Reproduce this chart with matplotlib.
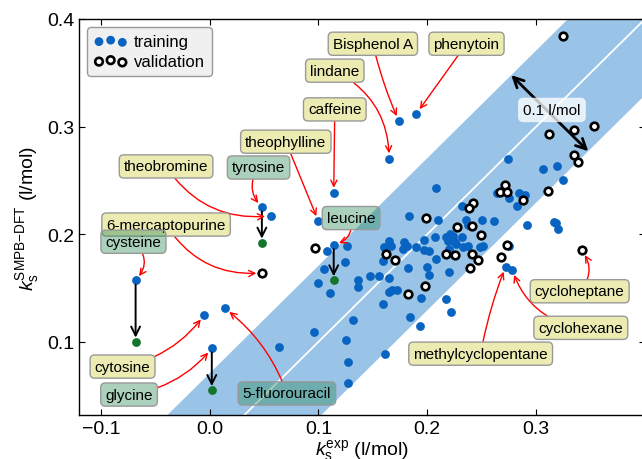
import numpy as np
import matplotlib
matplotlib.use('Agg')
import matplotlib.pyplot as plt

plt.rcParams['font.family'] = ['Liberation Sans', 'DejaVu Sans']
plt.rcParams['mathtext.fontset'] = 'custom'
plt.rcParams['mathtext.rm'] = 'Liberation Sans'
plt.rcParams['mathtext.it'] = 'Liberation Sans:italic'

# ── data (l/mol) ─────────────────────────────────────────────────────────────
train_x = [0.108, 0.126, 0.124, 0.105, 0.100, 0.111, 0.208, 0.183, 0.210, 0.165,
           0.160, 0.167, 0.179, 0.181, 0.178, 0.190, 0.197, 0.207, 0.217, 0.197,
           0.202, 0.208, 0.159, 0.182, 0.200, 0.165, 0.156, 0.147, 0.136, 0.136,
           0.165, 0.168, 0.172, 0.202, 0.220, 0.194, 0.217, 0.222, 0.159, 0.184,
           0.193, 0.132, 0.096, 0.064, 0.125, 0.127, 0.127, 0.161, 0.274, 0.306,
           0.319, 0.325, 0.264, 0.275, 0.284, 0.290, 0.282, 0.232, 0.236, 0.237,
           0.250, 0.261, 0.292, 0.316, 0.318, 0.320, 0.221, 0.224, 0.232, 0.219,
           0.222, 0.225, 0.233, 0.248, 0.251, 0.226, 0.275, 0.220, 0.237]
train_y = [0.184, 0.189, 0.174, 0.168, 0.155, 0.145, 0.243, 0.217, 0.213, 0.194,
           0.188, 0.189, 0.193, 0.189, 0.186, 0.188, 0.195, 0.197, 0.197, 0.185,
           0.184, 0.177, 0.175, 0.169, 0.170, 0.159, 0.161, 0.161, 0.157, 0.151,
           0.146, 0.148, 0.148, 0.162, 0.165, 0.141, 0.140, 0.128, 0.135, 0.123,
           0.115, 0.120, 0.109, 0.095, 0.102, 0.081, 0.062, 0.089, 0.270, 0.261,
           0.263, 0.250, 0.238, 0.234, 0.238, 0.236, 0.226, 0.226, 0.213, 0.209,
           0.213, 0.212, 0.209, 0.211, 0.210, 0.205, 0.200, 0.198, 0.197, 0.194,
           0.195, 0.193, 0.188, 0.188, 0.189, 0.191, 0.189, 0.186, 0.189]

valid_x = [0.325, 0.312, 0.335, 0.353, 0.335, 0.338, 0.271, 0.267, 0.273, 0.288,
           0.311, 0.242, 0.238, 0.227, 0.241, 0.249, 0.273, 0.268, 0.217, 0.225,
           0.241, 0.247, 0.239, 0.162, 0.170, 0.199, 0.182, 0.198, 0.097]
valid_y = [0.384, 0.293, 0.297, 0.301, 0.274, 0.267, 0.246, 0.239, 0.239, 0.232,
           0.240, 0.229, 0.224, 0.207, 0.208, 0.199, 0.190, 0.179, 0.182, 0.181,
           0.182, 0.176, 0.169, 0.182, 0.176, 0.215, 0.144, 0.152, 0.187]

# labelled molecules
named_train = ['Bisphenol A', 'phenytoin', 'lindane', 'caffeine', 'theophylline',
               'tyrosine', 'theobromine', 'cysteine', 'cytosine', 'glycine',
               '5-fluorouracil', 'leucine', 'methylcyclopentane', 'cyclohexane']
named_train_x = [0.174, 0.190, 0.165, 0.114, 0.100, 0.048, 0.056, -0.068, -0.005,
                 0.002, 0.014, 0.114, 0.272, 0.278]
named_train_y = [0.305, 0.312, 0.270, 0.238, 0.212, 0.225, 0.217, 0.157, 0.125,
                 0.094, 0.131, 0.190, 0.170, 0.167]

named_valid = ['6-mercaptopurine', 'cycloheptane']
named_valid_x = [0.048, 0.342]
named_valid_y = [0.164, 0.185]

# corrected values (green) for amino acids
corr_names = ['tyrosine', 'cysteine', 'glycine', 'leucine']
corr_y = [0.192, 0.100, 0.055, 0.157]

band_half = 0.05 * np.sqrt(2)   # 0.1 l/mol perpendicular width

# ── label layout: text position, box kind, arrow curvature ───────────────────
YEL = (0.75, 0.75, 0.0, 0.3)
GRN = (0.18, 0.545, 0.341, 0.4)
layout = {
    'Bisphenol A':        (0.150, 0.377, YEL, 0.05),
    'phenytoin':          (0.236, 0.377, YEL, 0.0),
    'lindane':            (0.115, 0.352, YEL, -0.3),
    'caffeine':           (0.115, 0.316, YEL, 0.0),
    'theophylline':       (0.070, 0.286, YEL, 0.0),
    'theobromine':        (-0.040, 0.263, YEL, 0.3),
    'tyrosine':           (0.045, 0.262, GRN, 0.4),
    '6-mercaptopurine':   (-0.040, 0.209, YEL, 0.3),
    'cysteine':           (-0.070, 0.193, GRN, -0.5),
    'cytosine':           (-0.080, 0.077, YEL, 0.2),
    'glycine':            (-0.074, 0.051, GRN, 0.2),
    '5-fluorouracil':     (0.071, 0.052, GRN, 0.15),
    'leucine':            (0.130, 0.215, GRN, -0.45),
    'methylcyclopentane': (0.249, 0.089, YEL, -0.05),
    'cyclohexane':        (0.341, 0.113, YEL, -0.3),
    'cycloheptane':       (0.340, 0.147, YEL, 0.4),
}

BLUE = '#0864c0'
BAND = '#99c4e8'
GREEN = '#13762c'

fig = plt.figure(figsize=(6.42, 4.6), dpi=100)
ax = fig.add_axes([79 / 642, 44 / 460, 566 / 642, 396 / 460])
xlim = (-0.12, 0.4)
ylim = (0.032, 0.4)

xx = np.array(xlim)
ax.fill_between(xx, xx - band_half, xx + band_half, color=BAND, lw=0, zorder=0)
ax.plot(xx, xx, color='white', lw=1.3, zorder=1)

all_tx = train_x + named_train_x
all_ty = train_y + named_train_y
ax.scatter(all_tx, all_ty, s=40, color=BLUE, lw=0, zorder=3, label='training')
ax.scatter(valid_x + named_valid_x, valid_y + named_valid_y, s=30,
           facecolor='white', edgecolor='black', lw=1.9, zorder=4,
           label='validation')

gx = [named_train_x[named_train.index(n)] for n in corr_names]
gy0 = [named_train_y[named_train.index(n)] for n in corr_names]
ax.scatter(gx, corr_y, s=40, color=GREEN, lw=0, zorder=3)
for x0, y0, y1 in zip(gx, gy0, corr_y):
    ax.annotate('', xy=(x0, y1), xytext=(x0, y0), zorder=5,
                arrowprops=dict(arrowstyle='->', color='black', lw=1.4,
                                mutation_scale=16, shrinkA=3, shrinkB=3))

points = dict(zip(named_train, zip(named_train_x, named_train_y)))
points.update(dict(zip(named_valid, zip(named_valid_x, named_valid_y))))
for name, (tx, ty, fc, rad) in layout.items():
    ax.annotate(name, xy=points[name], xytext=(tx, ty), ha='center', va='center',
                fontsize=11, zorder=6,
                bbox=dict(boxstyle='round,pad=0.3', fc=fc, ec='0.6', lw=1),
                arrowprops=dict(arrowstyle='->', color='red', lw=1,
                                connectionstyle=f'arc3,rad={rad}',
                                shrinkA=0, shrinkB=4))

# band width indicator
cx = 0.3125
d = band_half / 2
ax.annotate('', xy=(cx + d, cx - d), xytext=(cx - d, cx + d), zorder=5,
            arrowprops=dict(arrowstyle='<->', color='black', lw=2,
                            mutation_scale=18, shrinkA=0, shrinkB=0))
ax.text(cx + 0.002, cx + 0.003, '0.1 l/mol', ha='center', va='center', fontsize=11,
        zorder=6, bbox=dict(boxstyle='round,pad=0.3', fc=(1, 1, 1, 0.75),
                            ec=(1, 1, 1, 0.6)))

ax.set_xlim(*xlim)
ax.set_ylim(*ylim)
ax.set_xticks([-0.1, 0.0, 0.1, 0.2, 0.3])
ax.set_yticks([0.1, 0.2, 0.3, 0.4])
ax.tick_params(direction='in', top=True, right=True, labelsize=14, length=4.5)
for sp in ax.spines.values():
    sp.set_linewidth(1.0)

ax.set_xlabel(r'$k_\mathrm{s}^\mathrm{exp}$ (l/mol)', fontsize=14, labelpad=1)
ax.set_ylabel(r'$k_\mathrm{s}^\mathrm{SMPB{-}DFT}$ (l/mol)', fontsize=14)

ax.legend(loc='upper left', scatterpoints=3, fontsize=12, frameon=True,
          facecolor='#f0f0f0', edgecolor='0.6', framealpha=1,
          handletextpad=0.4, borderpad=0.4, labelspacing=0.3)

fig.savefig('out.png', dpi=100)
